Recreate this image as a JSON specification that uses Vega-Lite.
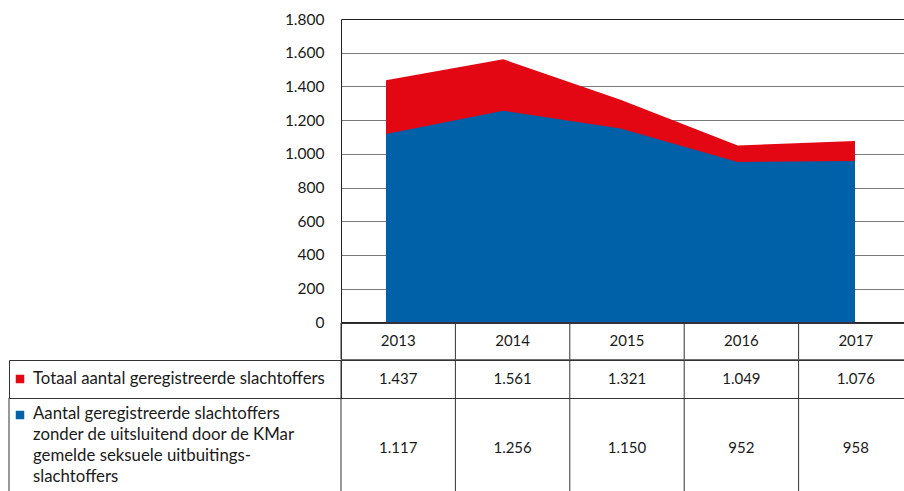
{
  "$schema": "https://vega.github.io/schema/vega-lite/v6.json",
  "padding": {"left": 8, "top": 12, "right": 0, "bottom": 0},
  "autosize": {"type": "pad"},
  "columns": 2,
  "spacing": 0,
  "bounds": "flush",
  "config": {
    "view": {"stroke": null},
    "font": "Lato",
    "locale": {"number": {"decimal": ",", "thousands": ".", "grouping": [3], "currency": ["€ ", ""]}},
    "axisY": {
      "values": [0, 200, 400, 600, 800, 1000, 1200, 1400, 1600, 1800],
      "format": ",d", "title": null, "grid": true, "labelOverlap": false,
      "gridColor": {"condition": {"test": "datum.value == 0 || datum.value == 1800", "value": "#222222"}, "value": "#7a7a7a"},
      "gridWidth": 1, "domainColor": "#222222", "ticks": false,
      "labelPadding": 17, "labelFontSize": 15.5, "labelColor": "#1a1a1a", "labelFont": "Lato"
    }
  },
  "datasets": {
    "series": [
      {"year": "2013", "total": 1437, "zonder": 1117},
      {"year": "2014", "total": 1561, "zonder": 1256},
      {"year": "2015", "total": 1321, "zonder": 1150},
      {"year": "2016", "total": 1049, "zonder": 952},
      {"year": "2017", "total": 1076, "zonder": 958}
    ]
  },
  "concat": [
    {
      "width": 332, "height": 303.3,
      "data": {"values": []},
      "mark": "text",
      "encoding": {}
    },
    {
      "width": 564, "height": 303.3,
      "data": {"name": "series"},
      "layer": [
        {
          "mark": {"type": "area", "color": "#e30613", "opacity": 1},
          "encoding": {
            "x": {"field": "year", "type": "ordinal", "axis": null, "scale": {"type": "point", "padding": 0.4051, "align": 0.4737}},
            "y": {"field": "total", "type": "quantitative", "stack": null,
              "scale": {"domain": [0, 1800], "nice": false},
              "axis": {"values": [0, 200, 400, 600, 800, 1000, 1200, 1400, 1600, 1800], "labelOverlap": false, "title": null}
            }
          }
        },
        {
          "mark": {"type": "area", "color": "#0061a8", "opacity": 1},
          "encoding": {
            "x": {"field": "year", "type": "ordinal", "axis": null},
            "y": {"field": "zonder", "type": "quantitative", "stack": null,
              "axis": {"values": [0, 200, 400, 600, 800, 1000, 1200, 1400, 1600, 1800], "labelOverlap": false, "title": null}
            }
          }
        }
      ]
    },
    {
      "width": 332, "height": 36.3,
      "data": {"values": []},
      "mark": "text",
      "encoding": {}
    },
    {
      "width": 564, "height": 36.3,
      "data": {"name": "series"},
      "view": {"stroke": "#333333"},
      "layer": [
        {
          "mark": {"type": "rule", "color": "#333333"},
          "encoding": {"x": {"field": "year", "type": "ordinal", "bandPosition": 0, "axis": null}}
        },
        {
          "mark": {"type": "text", "fontSize": 15, "color": "#1a1a1a"},
          "encoding": {
            "x": {"field": "year", "type": "ordinal", "axis": null, "scale": {"type": "band", "paddingInner": 0, "paddingOuter": 0, "range": [0, 572]}},
            "text": {"field": "year"}
          }
        }
      ]
    },
    {
      "width": 332, "height": 38,
      "data": {"values": [{"label": "Totaal aantal geregistreerde slachtoffers"}]},
      "view": {"stroke": "#333333"},
      "encoding": {"x": {"field": "label", "type": "nominal", "axis": null, "scale": {"type": "point", "padding": 0, "align": 0}}},
      "layer": [
        {"mark": {"type": "point", "shape": "square", "filled": true, "opacity": 1, "size": 72, "xOffset": 11, "color": "#e30613"}},
        {"mark": {"type": "text", "align": "left", "dx": 24, "fontSize": 16.8, "color": "#1a1a1a"}, "encoding": {"text": {"field": "label"}}}
      ]
    },
    {
      "width": 564, "height": 38,
      "data": {"name": "series"},
      "view": {"stroke": "#333333"},
      "layer": [
        {
          "mark": {"type": "rule", "color": "#333333"},
          "encoding": {"x": {"field": "year", "type": "ordinal", "bandPosition": 0, "axis": null}}
        },
        {
          "mark": {"type": "text", "fontSize": 15, "color": "#1a1a1a"},
          "encoding": {
            "x": {"field": "year", "type": "ordinal", "axis": null, "scale": {"type": "band", "paddingInner": 0, "paddingOuter": 0, "range": [0, 572]}},
            "text": {"field": "total", "type": "quantitative", "format": ",d"}
          }
        }
      ]
    },
    {
      "width": 332, "height": 94,
      "data": {"values": [{"label": "Aantal geregistreerde slachtoffers\nzonder de uitsluitend door de KMar\ngemelde seksuele uitbuitings-\nslachtoffers"}]},
      "encoding": {
        "x": {"field": "label", "type": "nominal", "axis": null, "scale": {"type": "point", "padding": 0, "align": 0}},
        "y": {"field": "label", "type": "nominal", "axis": null, "scale": {"type": "point", "padding": 0, "align": 0}}
      },
      "layer": [
        {"mark": {"type": "rule", "color": "#333333"}, "encoding": {"y": null}},
        {"mark": {"type": "point", "shape": "square", "filled": true, "opacity": 1, "size": 72, "xOffset": 11, "yOffset": 17, "color": "#0061a8"}},
        {"mark": {"type": "text", "align": "left", "baseline": "top", "dx": 24, "dy": 8, "fontSize": 16.8, "lineHeight": 21, "lineBreak": "\n", "color": "#1a1a1a"}, "encoding": {"text": {"field": "label"}}}
      ]
    },
    {
      "width": 564, "height": 94,
      "data": {"name": "series"},
      "layer": [
        {
          "mark": {"type": "rule", "color": "#333333"},
          "encoding": {"x": {"field": "year", "type": "ordinal", "bandPosition": 0, "axis": null}}
        },
        {
          "mark": {"type": "text", "fontSize": 15, "dy": 3, "color": "#1a1a1a"},
          "encoding": {
            "x": {"field": "year", "type": "ordinal", "axis": null, "scale": {"type": "band", "paddingInner": 0, "paddingOuter": 0, "range": [0, 572]}},
            "text": {"field": "zonder", "type": "quantitative", "format": ",d"}
          }
        }
      ]
    }
  ]
}
